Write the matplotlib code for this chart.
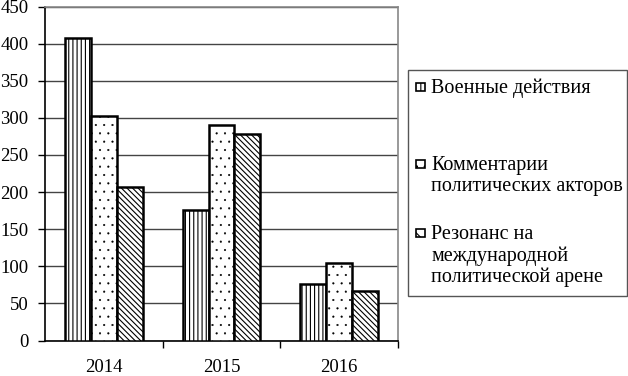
import numpy as np
import matplotlib.pyplot as plt
from matplotlib.patches import Rectangle

plt.rcParams['font.family'] = ['Liberation Serif', 'DejaVu Serif']

years = ['2014', '2015', '2016']
labels = ['Военные действия',
          'Комментарии\nполитических акторов',
          'Резонанс на\nмеждународной\nполитической арене']
military = [407, 176, 76]
comments = [303, 291, 104]
resonance = [207, 278, 67]
hatches = ['||||', '..', '\\\\\\\\\\\\']
hatch_lw = [0.8, 0.3, 0.8]

fs = 14.5
tfs = 13.5
fig = plt.figure(figsize=(6.28, 3.76), dpi=100)
ax = fig.add_axes([0.0717, 0.0944, 0.5621, 0.8883])

x = np.arange(len(years))
w = 0.22
series = [military, comments, resonance]
for i, vals in enumerate(series):
    plt.rcParams['hatch.linewidth'] = hatch_lw[i]
    ax.bar(x + (i - 1) * w, vals, w, color='white', edgecolor='black',
           linewidth=1.8, hatch=hatches[i], zorder=3)

ax.set_xlim(-0.5, 2.5)
ax.set_ylim(0, 450)
ax.set_yticks(range(0, 451, 50))
ax.set_xticks(x)
ax.set_xticklabels(years)
ax.set_xticks([0.5, 1.5, 2.5], minor=True)
ax.tick_params(axis='x', which='major', length=0, pad=13, labelsize=tfs)
ax.tick_params(axis='x', which='minor', length=5, width=1, direction='out')
ax.tick_params(axis='y', length=5, width=1, pad=7, labelsize=tfs)
ax.yaxis.grid(True, color='#444444', linewidth=1)
ax.set_axisbelow(True)
for s in ['top', 'right']:
    ax.spines[s].set_color('#888888')
    ax.spines[s].set_linewidth(1.2)
for s in ['left', 'bottom']:
    ax.spines[s].set_color('black')
    ax.spines[s].set_linewidth(1.2)

# легенда
plt.rcParams['hatch.linewidth'] = 0.8
W, H = 628, 376
fig.patches.append(Rectangle((408 / W, 1 - 296 / H), 219 / W, 226 / H,
                             transform=fig.transFigure, fill=False,
                             edgecolor='#555555', linewidth=1))
centers = [86, 163, 232]
for i, lab in enumerate(labels):
    yc = 1 - centers[i] / H
    fig.patches.append(Rectangle((416 / W, yc - 5 / H), 9 / W, 8 / H,
                                 transform=fig.transFigure, facecolor='white',
                                 edgecolor='black', linewidth=1.2,
                                 hatch=hatches[i][:2]))
    fig.text(431 / W, yc + 7 / H, lab, fontsize=fs, va='top', ha='left',
             linespacing=1.15, transform=fig.transFigure)

fig.savefig('out.png', dpi=100)
